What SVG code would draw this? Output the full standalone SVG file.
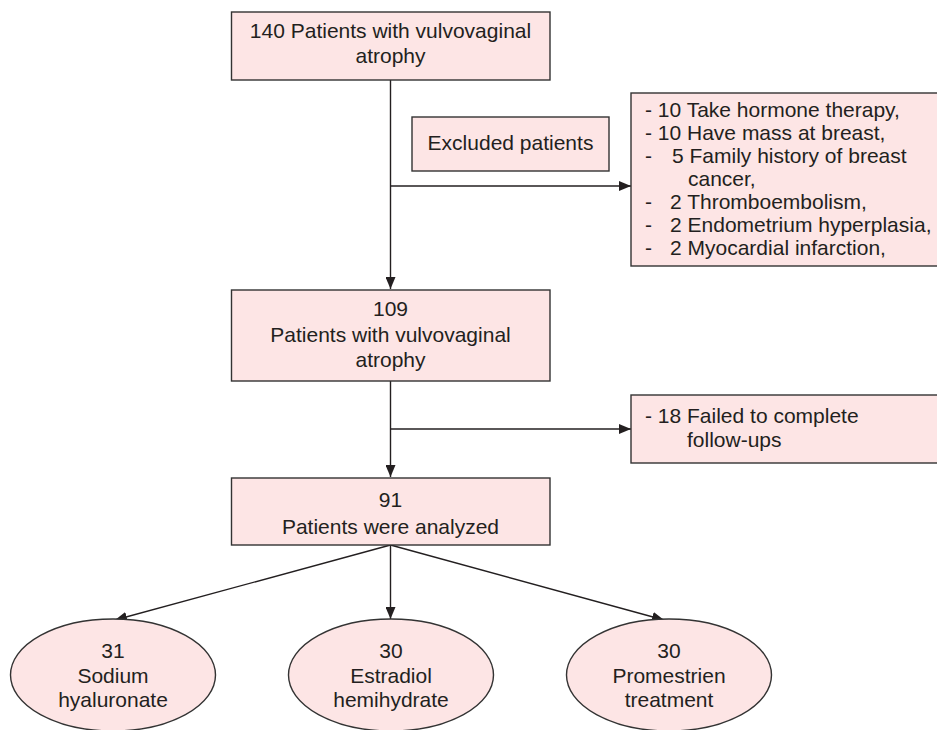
<svg xmlns="http://www.w3.org/2000/svg" width="937" height="730" viewBox="0 0 937 730">
<style>
.box{fill:#fde5e5;stroke:#333;stroke-width:1.4}
.t{font-family:"Liberation Sans",Arial,sans-serif;font-size:21px;fill:#231f20}
.c{text-anchor:middle}
.ln{stroke:#231f20;stroke-width:1.4;fill:none}
</style>
<defs>
<marker id="ah" viewBox="0 0 12 10" refX="12" refY="5" markerWidth="12" markerHeight="10" markerUnits="userSpaceOnUse" orient="auto">
<path d="M0,0 L12,5 L0,10 Z" fill="#231f20"/>
</marker>
</defs>
<rect width="937" height="730" fill="#fff"/>
<g id="connectors">
<line class="ln" x1="390.5" y1="80" x2="390.5" y2="289" marker-end="url(#ah)"/>
<line class="ln" x1="390.5" y1="186" x2="631" y2="186" marker-end="url(#ah)"/>
<line class="ln" x1="390.5" y1="381" x2="390.5" y2="477" marker-end="url(#ah)"/>
<line class="ln" x1="390.5" y1="429" x2="631" y2="429" marker-end="url(#ah)"/>
<line class="ln" x1="390.5" y1="545" x2="115" y2="620" marker-end="url(#ah)"/>
<line class="ln" x1="390.5" y1="545" x2="390.5" y2="619" marker-end="url(#ah)"/>
<line class="ln" x1="390.5" y1="545" x2="664" y2="620" marker-end="url(#ah)"/>
</g>
<g id="n1">
<rect class="box" x="231.5" y="12" width="318.5" height="68"/>
<text class="t c" x="390.5" y="38">140 Patients with vulvovaginal</text>
<text class="t c" x="390.5" y="63">atrophy</text>
</g>
<g id="excluded-label">
<rect class="box" x="412" y="117" width="197" height="54"/>
<text class="t c" x="510.5" y="150">Excluded patients</text>
</g>
<g id="excluded-list">
<rect class="box" x="631" y="93" width="312" height="173"/>
<text class="t" x="645" y="117">- 10 Take hormone therapy,</text>
<text class="t" x="645" y="140">- 10 Have mass at breast,</text>
<text class="t" x="645" y="163">-</text><text class="t" x="672" y="163">5 Family history of breast</text>
<text class="t" x="688" y="186">cancer,</text>
<text class="t" x="645" y="209">-</text><text class="t" x="670" y="209">2 Thromboembolism,</text>
<text class="t" x="645" y="232">-</text><text class="t" x="670" y="232">2 Endometrium hyperplasia,</text>
<text class="t" x="645" y="255">-</text><text class="t" x="670" y="255">2 Myocardial infarction,</text>
</g>
<g id="n2">
<rect class="box" x="231.5" y="290" width="318.5" height="91"/>
<text class="t c" x="390.5" y="316">109</text>
<text class="t c" x="390.5" y="342">Patients with vulvovaginal</text>
<text class="t c" x="390.5" y="367">atrophy</text>
</g>
<g id="failed">
<rect class="box" x="631" y="395" width="312" height="68"/>
<text class="t" x="645" y="423">- 18 Failed to complete</text>
<text class="t" x="687" y="447">follow-ups</text>
</g>
<g id="n3">
<rect class="box" x="231.5" y="478" width="318.5" height="67"/>
<text class="t c" x="390.5" y="507">91</text>
<text class="t c" x="390.5" y="534">Patients were analyzed</text>
</g>
<g id="e1">
<ellipse class="box" cx="113" cy="675" rx="102.5" ry="56"/>
<text class="t c" x="113" y="658">31</text>
<text class="t c" x="113" y="683">Sodium</text>
<text class="t c" x="113" y="707">hyaluronate</text>
</g>
<g id="e2">
<ellipse class="box" cx="391" cy="675" rx="102.5" ry="56"/>
<text class="t c" x="391" y="658">30</text>
<text class="t c" x="391" y="683">Estradiol</text>
<text class="t c" x="391" y="707">hemihydrate</text>
</g>
<g id="e3">
<ellipse class="box" cx="669" cy="675" rx="102.5" ry="56"/>
<text class="t c" x="669" y="658">30</text>
<text class="t c" x="669" y="683">Promestrien</text>
<text class="t c" x="669" y="707">treatment</text>
</g>
</svg>
